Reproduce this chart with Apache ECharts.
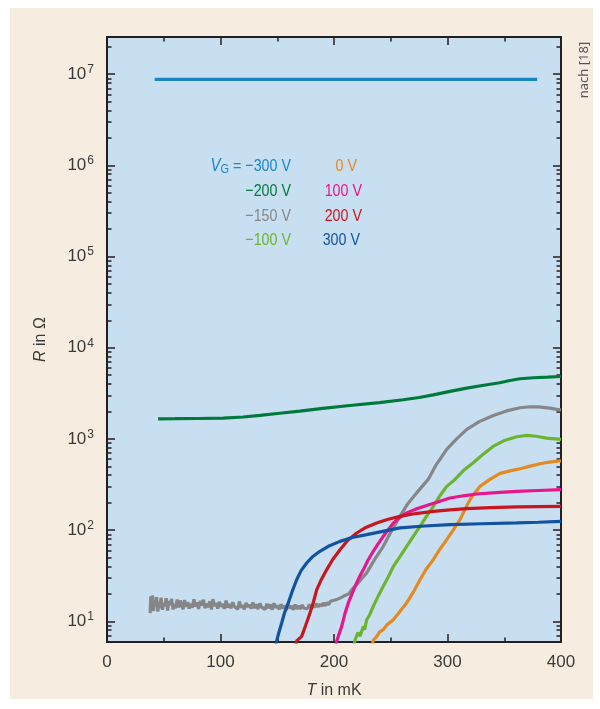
<!DOCTYPE html>
<html><head><meta charset="utf-8">
<script src="https://cdn.jsdelivr.net/npm/echarts@6/dist/echarts.min.js"></script>
<style>html,body{margin:0;padding:0;background:#fff}#c{width:600px;height:709px}</style>
</head><body><div id="c"></div>
<script>
// ---- data (T in mK, R in Ohm) ----
const vm300 = [[42,8.8e6],[120,8.8e6],[250,8.8e6],[379,8.8e6]];
const vm200 = [[45,1664],[60,1668],[80,1675],[102.5,1690],[120,1740],[134.8,1811],[150,1900],[170,2019],[190,2160],[214,2328],[240,2500],[261,2692],[275,2850],[287.5,3048],[300,3280],[317,3603],[332,3880],[346,4130],[355,4370],[364,4571],[375.6,4690],[388,4760],[400,4843]];
const vm150 = [[38,12.3],[38.6,18.8],[39.4,13.6],[40.1,19.2],[41,12.9],[41.8,17.1],[42.9,14.8],[43.6,18.4],[44.8,12.8],[45.7,16.2],[46.5,13.9],[47.6,18.1],[48.9,13.4],[49.8,15.8],[51,14.6],[52.1,17.9],[53.4,13.1],[54.6,16.7],[55.5,15.1],[56.9,17.6],[58.2,13.5],[59.4,15.4],[60.3,13.9],[61.8,17.3],[63.1,14.2],[64.5,16.9],[65.6,15.3],[67,13.6],[68.3,17.1],[69.9,14.4],[71.2,16.3],[72.4,13.8],[73.9,15.6],[75.1,14.1],[76.6,17.4],[78,14.6],[79.3,16.1],[80.7,13.7],[82.2,16.8],[83.5,14.9],[85,17.2],[86.4,13.9],[87.8,15.7],[89.1,14.3],[90.6,16.6],[92,13.5],[93.3,17.5],[94.9,14.7],[96.2,15.9],[97.6,13.8],[99,16.4],[100.5,14.5],[102,15.6],[103.4,13.7],[104.9,16.9],[106.3,14.2],[107.8,15.5],[109.2,13.9],[110.8,16.2],[112.1,14.6],[113.7,15.3],[115.2,13.6],[116.6,16.5],[118.1,14.1],[119.5,15.1],[121,13.5],[122.6,15.9],[124,14.4],[125.5,15.2],[127,13.8],[128.6,16.1],[130,14],[131.6,15.4],[133.1,13.6],[134.7,15.7],[136.2,14.3],[137.8,15],[139.3,13.5],[140.9,15.6],[142.4,13.9],[144,15.3],[145.5,13.4],[147.1,15.8],[148.6,14.1],[150.2,14.9],[151.7,13.5],[153.3,15.4],[154.8,13.8],[156.4,14.9],[158,13.3],[159.5,15.2],[161.1,13.9],[162.6,14.7],[164.2,13.4],[165.8,15.3],[167.3,13.7],[168.9,14.8],[170.4,13.6],[172,15.1],[173.5,13.9],[175.1,14.6],[176.6,13.8],[178.2,15.3],[179.7,14.1],[181.3,15],[182.9,14.2],[184.4,15.6],[186,14.4],[187.5,15.4],[189.1,14.6],[190.6,15.9],[192.2,14.8],[193.8,16.1],[195.3,15.2],[196.9,16.6],[198.4,15.8],[200,17],[201.6,16.4],[203.1,17.5],[204.7,17.3],[206.2,18.2],[207.8,18],[209.3,19.1],[211,18.9],[213,20],[216,22.5],[220,25.2],[224,29],[228.8,34],[236,48],[243.4,66.4],[250,95],[258.1,141.6],[265,195],[272.8,256],[283,360],[290,520],[299.3,767],[308,1000],[317,1271],[328,1550],[340.4,1811],[352,2030],[363.9,2198],[372.7,2254],[380,2250],[390,2180],[400,2070]];
const vm100 = [[217,5],[218.5,6.2],[221,7.5],[223,6.9],[225.9,8.8],[227,8.1],[228.8,10.4],[231,11.5],[234.6,14.6],[239,19],[243.4,24.2],[248,31],[252.3,40],[258,51],[264,66.4],[270,86],[275.8,110],[282,145],[287.5,182],[293,235],[299.3,302],[306.6,360],[314,450],[322.7,548],[332,690],[340.4,834],[350,960],[361,1057],[369.8,1092],[378,1070],[387.4,1021],[400,988]];
const v0 = [[233,5],[234.6,6.2],[238,6.9],[240,7.6],[243.4,8.1],[247,9.2],[252.3,10.4],[258,12.8],[264,15.9],[270,21],[275.8,28.6],[281,37],[287.5,47.5],[293,61],[299.3,78.7],[305,100],[311,130],[315,165],[319.8,216],[324,255],[328.6,302],[337.4,360],[346.3,419],[355,446],[363.9,471],[372,500],[381.5,535],[390,558],[400,577]];
const v100 = [[201,5],[202.3,6.04],[203.8,6.84],[206.8,8.8],[209.5,12],[212.6,15.9],[215.5,19.5],[218.5,24.2],[222,30],[225.9,36.9],[230,47],[234.6,58.6],[239,71],[243.4,85.5],[248,102],[252.3,120],[258,138],[264,154.5],[272,170],[281.6,186],[292,205],[302.2,225],[314,238],[325.7,249],[343,258],[361,266],[380,272],[400,278]];
const v200 = [[166,5],[167.1,6.1],[171.5,6.84],[175,9],[178.9,12.4],[182,16.5],[184.8,22.3],[189,29],[193.6,36.9],[199,48],[205.3,61],[212,77],[220,93],[228,107],[237.6,120],[247,131],[258.1,141.6],[272,152],[287.5,160.6],[302,167],[316.9,172],[338,176.5],[361,179.6],[380,181],[400,182]];
const v300 = [[148,5],[149.5,6.1],[151.5,7.6],[153.9,9.6],[156.5,12.5],[159.7,15.9],[163,21],[167.1,28.6],[171,36],[175.9,43.6],[181,51],[187.6,58.6],[195,66.5],[205.3,75.3],[216,83],[228.8,89.3],[243,97],[258.1,105.7],[280,111],[302.2,115],[330,117.5],[361,120],[380,122],[400,125]];

const xTicks = [0,100,200,300,400];
const yDecades = [10,100,1000,10000,100000,1000000,10000000];
const seriesNames = ['−300 V','−200 V','−150 V','−100 V','0 V','100 V','200 V','300 V'];
const seriesColors = ['#1a86c8','#00793c','#868688','#6cb42f','#e6891f','#e8158b','#c8161e','#1351a1'];
const seriesData = [vm300, vm200, vm150, vm100, v0, v100, v200, v300];

const yMin = 5.93, yMax = 2.56e7;
const minorVals = [];
for (let e = 0; e <= 7; e++) for (let m = 2; m <= 9; m++) { const v = m * Math.pow(10, e); if (v > yMin && v < yMax) minorVals.push(v); }

const FONT = "'Liberation Sans',Arial,sans-serif";
const AX = '#231f20';
const TXT = '#3a3a3a';
const LSX = 0.84; // condensed look for legend text

const chart = echarts.init(document.getElementById('c'), null, {renderer: 'canvas'});
const baseX = {
  type: 'value', min: 0, max: 400, interval: 100, gridIndex: 0,
  splitLine: {show: false},
  axisLine: {show: true, onZero: false, lineStyle: {color: AX, width: 2}},
  axisTick: {show: true, inside: true, length: 8, lineStyle: {color: AX, width: 1.5}},
  minorTick: {show: true, splitNumber: 2, length: 4.5, lineStyle: {color: AX, width: 1.5}},
};
const logY = (pos, major, showLabel) => ({
  type: 'log', logBase: 10, min: yMin, max: yMax, position: pos, offset: 0,
  splitLine: {show: false},
  axisLine: {show: major, onZero: false, lineStyle: {color: AX, width: 2}},
  axisTick: {show: true, inside: true, length: major ? 8 : 4.5, customValues: major ? yDecades : minorVals, lineStyle: {color: AX, width: 1.5}},
  axisLabel: showLabel ? {
    show: true, customValues: yDecades, margin: 13,
    formatter: v => '{b|10}{s|' + Math.round(Math.log10(v)) + '}',
    rich: {b: {fontSize: 17, fontFamily: FONT, color: TXT}, s: {fontSize: 12, fontFamily: FONT, color: TXT, verticalAlign: 'top', padding: [0, 0, 9, 1]}}
  } : {show: false},
  name: showLabel ? '{i|R} in Ω' : '',
  nameLocation: 'middle', nameGap: 58, nameRotate: 90,
  nameTextStyle: {fontSize: 16, fontFamily: FONT, color: TXT, rich: {i: {fontSize: 16, fontFamily: FONT, fontStyle: 'italic', color: TXT}}}
});
const legendText = (x, y, i) => ({type: 'text', z: 100, x: x, y: y, scaleX: LSX,
  style: {text: seriesNames[i], align: 'right', verticalAlign: 'middle', fill: seriesColors[i], fontSize: 17, fontFamily: FONT}});

const option = {
  animation: false,
  backgroundColor: '#ffffff',
  graphic: [
    {type: 'rect', z: -10, silent: true, shape: {x: 10, y: 8, width: 583, height: 691}, style: {fill: '#f6ecdf'}},
    {type: 'text', z: 100, x: 584, y: 70, rotation: Math.PI / 2, style: {text: 'nach [18]', fill: '#555555', fontSize: 13, fontFamily: "'Noto Sans',sans-serif", align: 'center', verticalAlign: 'middle'}},
    {type: 'text', z: 100, x: 291, y: 166, scaleX: LSX, style: {text: '{v|V}{g|G}{n| = ' + seriesNames[0] + '}', align: 'right', verticalAlign: 'middle', fill: seriesColors[0],
      rich: {v: {fontSize: 18, fontStyle: 'italic', fontFamily: FONT, fill: seriesColors[0]}, g: {fontSize: 13, fontFamily: FONT, fill: seriesColors[0], verticalAlign: 'bottom', padding: [7, 0, 0, 0]}, n: {fontSize: 17, fontFamily: FONT, fill: seriesColors[0]}}}},
    legendText(291, 191, 1), legendText(291, 216, 2), legendText(291, 240, 3),
    legendText(357, 166, 4), legendText(362, 191, 5), legendText(362, 216, 6), legendText(360, 240, 7)
  ],
  grid: {left: 107, top: 37, right: 39, bottom: 67, show: true, backgroundColor: '#c8dff2', borderWidth: 0},
  xAxis: [
    Object.assign({}, baseX, {position: 'bottom',
      axisLabel: {show: true, margin: 12, fontSize: 17, fontFamily: FONT, color: TXT, customValues: xTicks},
      name: '{i|T} in mK', nameLocation: 'middle', nameGap: 41,
      nameTextStyle: {fontSize: 16, fontFamily: FONT, color: TXT, rich: {i: {fontSize: 16, fontFamily: FONT, fontStyle: 'italic', color: TXT}}}}),
    Object.assign({}, baseX, {position: 'top', axisLabel: {show: false}})
  ],
  yAxis: [logY('left', true, true), logY('right', true, false), logY('left', false, false), logY('right', false, false)],
  series: seriesData.map((d, i) => ({
    name: seriesNames[i], type: 'line', data: d, xAxisIndex: 0, yAxisIndex: 0,
    showSymbol: false, symbol: 'none', clip: true, smooth: false,
    lineStyle: {color: seriesColors[i], width: 3.2},
    z: i + 1
  }))
};
chart.setOption(option);
</script></body></html>
